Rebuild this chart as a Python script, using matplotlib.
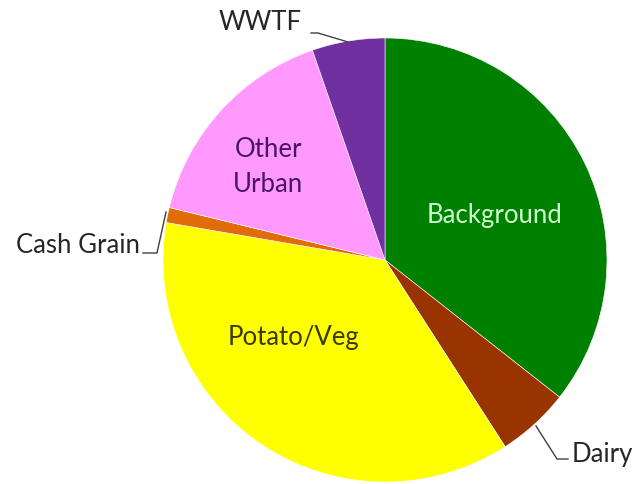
import matplotlib.pyplot as plt

# share of each source, clockwise from 12 o'clock
categories = ['Background', 'Dairy', 'Potato/Veg', 'Cash Grain', 'Other Urban', 'WWTF']
shares = [35.6, 5.3, 36.8, 1.1, 15.9, 5.3]
colors = ['#008000', '#993300', '#FFFF00', '#E36C0A', '#FF99FF', '#7030A0']

W, H = 637, 485
cx, cy, r = 385, H - 261, 222

fig = plt.figure(figsize=(W / 100, H / 100), dpi=100)
ax = fig.add_axes([0, 0, 1, 1])

ax.pie(shares, colors=colors, startangle=90, counterclock=False,
       center=(cx, cy), radius=r, frame=True,
       wedgeprops=dict(edgecolor='white', linewidth=0.4))
ax.set_xlim(0, W)
ax.set_ylim(0, H)
ax.set_aspect('equal')
ax.axis('off')

font = 'Lato'
fs = 18.5

# labels inside the slices (pixel coords from top-left)
ax.text(495, H - 215, 'Background', color='#CCFFCC', fontsize=fs,
        family=font, ha='center', va='center')
ax.text(268, H - 167, 'Other\nUrban', color='#4B1464', fontsize=fs,
        family=font, ha='center', va='center', linespacing=1.5)
ax.text(293, H - 338, 'Potato/Veg', color='#3A3A00', fontsize=fs,
        family=font, ha='center', va='center')

# outside labels with leader lines
txt = '#262626'
ax.text(260, H - 22, 'WWTF', color=txt, fontsize=fs, family=font,
        ha='center', va='center')
ax.plot([311, 318, 348], [H - 34, H - 34, H - 43], color='#404040', lw=1)

ax.text(140, H - 246, 'Cash Grain', color=txt, fontsize=fs, family=font,
        ha='right', va='center')
ax.plot([143, 157, 166], [H - 254, H - 254, H - 213], color='#404040', lw=1)

ax.text(572, H - 455, 'Dairy', color=txt, fontsize=fs, family=font,
        ha='left', va='center')
ax.plot([536, 557, 568], [H - 427, H - 460, H - 460], color='#404040', lw=1)

plt.savefig('out.png', dpi=100)
plt.close()
